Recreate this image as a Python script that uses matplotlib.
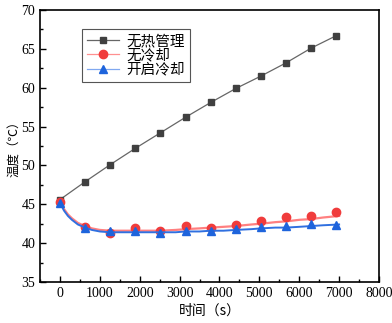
import numpy as np
import matplotlib
matplotlib.use('Agg')
import matplotlib.pyplot as plt
from matplotlib.ticker import MultipleLocator

plt.rcParams['font.family'] = ['Liberation Serif', 'Noto Sans CJK SC']
plt.rcParams['mathtext.fontset'] = 'stix'

# marker samples
t_mark = [0, 630, 1260, 1890, 2520, 3150, 3780, 4410, 5040, 5670, 6300, 6930]
no_mgmt = [45.6, 47.9, 50.1, 52.2, 54.2, 56.2, 58.1, 59.9, 61.5, 63.2, 65.1, 66.7]
no_cool = [45.3, 42.1, 41.3, 41.9, 41.5, 42.2, 42.0, 42.3, 42.8, 43.3, 43.5, 44.0]
cool_on = [45.2, 42.0, 41.5, 41.5, 41.3, 41.5, 41.6, 41.8, 42.1, 42.2, 42.4, 42.3]

# line traces
t_line = [0, 100, 200, 300, 450, 630, 800, 1000, 1260, 1600, 1890, 2200, 2520,
          2900, 3150, 3500, 3780, 4100, 4410, 4800, 5040, 5400, 5670, 6000,
          6300, 6600, 7000]
no_cool_line = [45.3, 44.4, 43.7, 43.2, 42.6, 42.2, 41.9, 41.7, 41.6, 41.6, 41.6,
                41.6, 41.6, 41.7, 41.8, 41.9, 42.0, 42.1, 42.2, 42.4, 42.5,
                42.7, 42.8, 43.0, 43.1, 43.3, 43.5]
cool_on_line = [45.2, 44.2, 43.5, 43.0, 42.4, 42.0, 41.7, 41.5, 41.4, 41.4, 41.4,
                41.4, 41.4, 41.4, 41.5, 41.5, 41.6, 41.6, 41.7, 41.8, 41.9,
                42.0, 42.0, 42.1, 42.2, 42.3, 42.4]

labels = ["无热管理", "无冷却", "开启冷却"]

fig = plt.figure(figsize=(3.92, 3.23), dpi=100)
ax = fig.add_axes([40/392, 41/323, 339/392, 272/323])

ax.plot(t_mark, no_mgmt, color='#666666', lw=0.9, marker='s', ms=5,
        mfc='#404040', mec='#404040', label=labels[0])
ax.plot(t_line, no_cool_line, color='#FF8080', lw=1.6)
ax.plot(t_mark, no_cool, color='#FF8080', lw=0, marker='o', ms=6,
        mfc='#F03C3C', mec='#F03C3C')
ax.plot(t_line, cool_on_line, color='#3070E0', lw=1.4)
ax.plot(t_mark, cool_on, color='#3070E0', lw=0, marker='^', ms=6,
        mfc='#1E64DC', mec='#1E64DC')

# legend handles
h1 = ax.plot([], [], color='#666666', lw=0.9, marker='s', ms=5, mfc='#404040', mec='#404040')[0]
h2 = ax.plot([], [], color='#FF9090', lw=0.9, marker='o', ms=6, mfc='#F03C3C', mec='#F03C3C')[0]
h3 = ax.plot([], [], color='#80A8F0', lw=0.9, marker='^', ms=6, mfc='#1E64DC', mec='#1E64DC')[0]
leg = ax.legend([h1, h2, h3], labels, loc='upper left',
                bbox_to_anchor=(82/392, 1 - 29/323), bbox_transform=fig.transFigure,
                prop={'family': 'Noto Sans CJK SC', 'size': 10.5}, fancybox=False,
                edgecolor='#555555', framealpha=1, handlelength=2.2,
                borderpad=0.35, labelspacing=0.02, handletextpad=0.5,
                borderaxespad=0)
leg.get_frame().set_linewidth(0.8)

ax.set_xlim(-500, 8000)
ax.set_ylim(35, 70)
ax.xaxis.set_major_locator(MultipleLocator(1000))
ax.xaxis.set_minor_locator(MultipleLocator(500))
ax.yaxis.set_major_locator(MultipleLocator(5))
ax.yaxis.set_minor_locator(MultipleLocator(2.5))
ax.tick_params(which='both', direction='in', labelsize=10, top=False, right=False)
ax.tick_params(which='major', length=4, width=1)
ax.tick_params(which='minor', length=2, width=1)
for s in ax.spines.values():
    s.set_linewidth(1.2)

ax.set_xlabel('时间（s）', fontfamily=['Noto Sans CJK SC'], fontsize=10, labelpad=3)
ax.set_ylabel('温度（℃）', fontfamily=['Noto Sans CJK SC'], fontsize=9, labelpad=0)

fig.savefig('out.png', dpi=100)
